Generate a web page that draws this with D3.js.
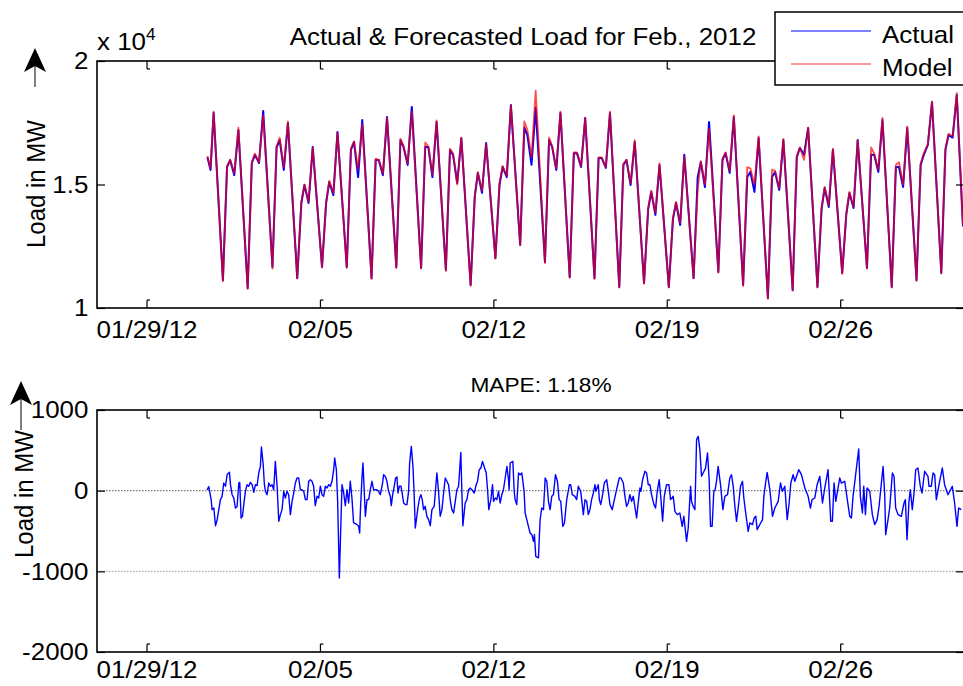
<!DOCTYPE html>
<html>
<head>
<meta charset="utf-8">
<script src="https://cdn.jsdelivr.net/npm/d3@7"></script>
<style>
  body { margin: 0; background: #fff; }
  svg text { font-family: "Liberation Sans", Arial, Helvetica, sans-serif; fill: #000; }
</style>
</head>
<body>
<svg id="chart" width="963" height="686"></svg>
<script>
// ---- data ----
// x ticks
const xTickDays = ["2012-01-29", "2012-02-05", "2012-02-12", "2012-02-19", "2012-02-26"];
const xTickLabels = ["01/29/12", "02/05", "02/12", "02/19", "02/26"];
const loadTicks = [10000, 15000, 20000];
const errTicks = [-2000, -1000, 0, 1000];

// load: partial first day (Jan 31), then one value per day (Feb 1 .. Mar 1) at fixed hours
const leadHours = [11, 14, 17];
const leadActual = [16100, 15590, 17900];
const leadModel = [16150, 15650, 17950];
const dayHours = [2, 6, 9, 13, 17];   // night low, morning rise, morning high, midday dip, evening peak
const actTrough = [11130,10800,11660,11210,11660,11660,11210,11660,11620,11540,10930,12020,12550,11860,11250,11210,10850,11010,10850,11210,11460,10930,10400,10730,10850,11420,11620,10850,11130,11420];
const actMorning = [15700,15870,16500,14250,14250,16400,15990,16800,16520,16400,14500,15000,17300,16800,16270,16070,15790,14000,13600,15300,16000,15300,15300,16110,14000,13800,16200,15710,15790,16400];
const actShoulder = [15990,16200,16800,14980,15100,16720,15990,16520,16520,16200,15470,15710,17000,16520,16270,16070,15990,14700,14250,15910,16270,15510,15500,16480,14860,14660,16200,15710,16200,17000];
const actMidday = [15380,15870,15590,14250,14570,15300,15380,15790,15300,15060,14660,15300,15800,15590,15710,15670,14980,13770,13360,14900,15470,14700,14780,16200,14090,14050,15510,14900,16600,16900];
const actPeak = [17200,17980,17490,16520,17130,17610,17730,18140,17530,16870,16680,18220,18100,17890,17690,17890,16720,15790,16200,17530,17730,16880,16800,17290,16400,16800,17610,17290,18340,18620];
const modTrough = [11080,10780,11600,11200,11640,11620,11180,11620,11600,11500,10900,12000,12550,11820,11230,11180,10830,10980,10830,11200,11430,10900,10380,10700,10830,11380,11600,10830,11100,11400];
const modMorning = [15750,15900,16550,14300,14300,16450,16050,16850,16700,16450,14550,15050,17550,16900,16300,16100,15850,14050,13650,14800,16050,15700,15600,16150,14050,13850,16500,15800,15850,16450];
const modShoulder = [16000,16250,16900,15000,15150,16750,16000,16550,16550,16250,15500,15750,17200,16550,16300,16100,16000,14750,14300,15950,16300,15650,15550,16500,14900,14700,16250,15900,16250,17050];
const modMidday = [15450,15900,15700,14300,14650,15600,15450,15850,15400,15000,14750,15350,16100,15650,15750,15700,15050,13850,13450,15000,15550,15000,14850,16000,14150,14100,15600,15000,16650,16950];
const modPeak = [17300,17800,17550,16500,17100,17450,17700,17950,17600,16900,16650,18200,18800,17950,17700,17950,16800,15850,16150,17250,17800,16950,16850,17300,16450,16800,17700,17350,18350,18700];
const tailHours = [23];
const tailActual = [13300];
const tailModel = [13350];

// forecast error in MW: [hours after Jan 31 00:00, value]
const errSeries = [
  [10.7,10],[12.3,50],[14.6,-110],[15.5,-235],[17.2,-215],[18.8,-435],[20.4,-360],[22.0,-235],[23.6,-110],[25.2,-70],
  [26.8,95],[28.5,55],[30.1,200],[32.3,227],[33.3,75],[34.9,-50],[36.5,-90],[38.1,-215],[39.7,-200],[41.4,95],
  [42.3,103],[43.6,-340],[44.9,-318],[46.2,-173],[47.8,-8],[49.4,74],[51.0,54],[52.6,103],[54.3,74],[55.9,-21],
  [57.5,74],[59.1,62],[60.7,219],[62.3,301],[63.3,541],[64.9,343],[66.2,74],[67.2,-8],[68.8,-50],[70.4,95],
  [72.0,54],[73.6,74],[75.2,12],[76.8,363],[78.5,54],[80.1,-380],[81.7,-297],[83.3,-235],[84.9,-8],[86.5,-91],
  [88.1,-8],[89.7,-50],[91.4,-297],[93.0,-132],[94.6,-29],[96.2,95],[97.8,157],[99.4,157],[101.0,12],[102.6,12],
  [104.3,-8],[105.9,-111],[107.5,-111],[109.1,116],[110.7,136],[112.3,116],[113.9,54],[115.5,-186],[117.2,-70],[118.8,-91],
  [120.4,54],[122.0,-50],[123.6,-70],[125.2,54],[126.8,33],[128.5,74],[130.1,54],[131.7,116],[133.3,260],[134.3,405],
  [135.9,260],[137.2,-153],[138.8,-1082],[140.4,-359],[141.4,74],[143.0,-29],[144.6,-186],[146.2,12],[147.8,-153],[149.4,116],
  [151.0,-91],[152.6,-400],[154.3,-409],[155.9,-421],[157.5,-442],[158.5,-525],[159.1,-277],[160.7,157],[161.7,343],[163.0,-29],
  [164.0,-318],[165.6,-111],[167.2,-111],[168.8,12],[170.4,116],[172.0,12],[173.6,12],[175.2,12],[176.8,-8],[178.5,-50],
  [180.7,95],[181.7,198],[183.3,178],[184.9,116],[186.5,-8],[188.2,-70],[189.1,-186],[190.7,-29],[192.0,54],[193.3,157],
  [194.6,169],[195.6,-29],[196.9,54],[198.5,54],[199.4,-8],[201.1,-153],[202.7,-173],[204.3,-173],[205.9,-8],[206.9,343],
  [208.5,549],[210.1,301],[211.1,12],[212.4,-463],[214.9,-215],[216.5,-91],[217.8,-50],[219.1,-111],[220.4,-235],[222.0,-194],
  [223.6,-318],[225.3,-359],[226.9,-434],[228.5,-235],[230.7,-194],[233.3,219],[234.9,-8],[236.5,-318],[238.2,-235],[239.8,-29],
  [241.4,157],[243.0,116],[244.6,74],[246.2,-111],[247.8,-235],[249.5,-277],[251.1,-132],[252.7,12],[254.3,54],[256.5,475],
  [257.5,-8],[258.5,-434],[260.7,-153],[262.4,-111],[264.0,12],[265.6,33],[267.2,12],[269.5,-29],[271.4,74],[272.7,116],
  [274.3,260],[275.9,281],[277.5,363],[279.5,281],[281.1,219],[282.4,12],[283.6,-235],[285.6,-111],[287.2,74],[288.2,-132],
  [289.8,-91],[291.4,-111],[293.0,-8],[294.6,-153],[296.2,-50],[297.8,12],[299.5,157],[301.1,301],[302.7,136],[303.3,12],
  [304.3,343],[306.9,363],[308.2,-8],[309.1,-111],[310.7,-173],[312.4,219],[314.0,198],[315.6,219],[317.8,-8],[318.8,-277],
  [320.4,-359],[322.0,-442],[323.6,-525],[325.3,-545],[326.9,-628],[327.8,-545],[329.1,-814],[331.7,-834],[333.3,-359],[334.9,-215],
  [336.6,-235],[338.2,157],[339.8,116],[341.4,-132],[343.0,-235],[344.6,-70],[346.2,-50],[348.2,198],[350.1,116],[351.7,-111],
  [353.3,-132],[355.3,-442],[356.9,-400],[359.1,-111],[361.7,74],[362.9,74],[364.5,-50],[367.1,-70],[368.7,-111],[370.3,54],
  [372.6,-8],[373.6,-111],[375.2,-297],[376.8,-111],[378.4,-132],[380.0,-297],[381.6,-235],[383.2,-111],[384.9,-29],[386.5,74],
  [387.4,-8],[389.7,74],[390.7,-111],[392.0,-173],[393.6,-70],[395.5,95],[397.8,136],[399.4,-8],[401.0,-173],[403.2,-235],
  [404.9,-132],[407.4,12],[410.0,157],[411.6,157],[413.9,95],[415.5,-70],[417.1,-194],[418.7,-153],[420.3,-50],[422.0,-132],
  [423.6,-70],[426.8,-339],[428.7,-111],[430.0,33],[431.0,-8],[432.6,136],[434.9,240],[436.5,219],[438.1,74],[439.7,74],
  [441.3,-50],[443.6,-173],[445.2,-215],[446.8,-8],[448.7,136],[450.3,-91],[452.0,-380],[453.6,-70],[455.8,74],[458.1,74],
  [459.7,-111],[462.3,-70],[463.9,-256],[466.2,-297],[468.7,-277],[471.0,-442],[472.6,-318],[475.2,-628],[476.8,-463],[477.8,-235],
  [479.1,54],[480.0,-132],[481.6,-194],[483.3,-235],[484.9,632],[486.5,673],[488.1,508],[489.7,178],[491.3,219],[493.6,281],
  [495.5,467],[497.1,136],[498.4,-442],[500.0,-442],[501.6,-8],[502.9,12],[504.2,116],[505.8,301],[508.1,74],[510.4,-235],
  [512.3,-70],[514.9,-50],[517.1,157],[518.7,198],[520.4,54],[522.0,-194],[523.6,-380],[525.8,-153],[527.5,54],[529.4,116],
  [530.7,-91],[532.3,-256],[534.9,-504],[536.5,-400],[539.1,-421],[540.7,-339],[542.3,-318],[543.6,-483],[546.2,-420],[548.8,-359],
  [550.1,-70],[552.0,116],[553.3,227],[555.9,12],[558.5,-318],[560.7,-215],[564.0,-132],[566.2,95],[568.1,-8],[570.4,54],
  [572.7,-359],[574.6,-153],[576.2,95],[578.5,198],[580.1,116],[583.9,260],[586.5,198],[589.8,33],[593.0,-70],[595.2,-215],
  [596.8,-111],[599.4,-91],[601.7,74],[604.3,178],[606.9,-153],[609.1,33],[612.3,260],[614.9,-380],[616.5,-380],[618.1,95],
  [619.8,-132],[623.6,157],[625.2,95],[628.5,116],[630.7,-91],[633.3,-318],[634.9,-339],[636.5,-70],[638.8,178],[642.0,516],
  [643.6,-70],[645.6,-277],[646.9,54],[648.5,-297],[650.1,33],[652.7,-8],[655.2,-297],[657.5,-421],[659.8,-359],[661.7,-194],
  [665.6,301],[667.2,-50],[668.1,-545],[670.4,-359],[672.0,-215],[674.6,219],[676.2,178],[677.8,-215],[680.1,-297],[683.3,-318],
  [685.9,-153],[687.2,-111],[688.8,-607],[690.7,-132],[692.0,12],[693.9,-235],[695.6,-29],[697.2,260],[699.4,281],[701.7,54],
  [703.3,-29],[705.9,240],[709.1,178],[710.1,54],[712.3,54],[714.0,219],[715.6,198],[717.2,-111],[720.4,116],[723.0,281],
  [725.2,74],[728.5,-50],[732.7,54],[734.9,-153],[737.2,-442],[738.8,-215],[741.4,-235]
];

// ---- layout ----
const FONT = 24, STRETCH = 1.08;
const left = 97, right = 964;
const top1 = 61, bot1 = 308, top2 = 410, bot2 = 652;
const T0 = Date.UTC(2012, 0, 31);
const hourToDate = h => new Date(T0 + h * 3600e3);
const parseDay = d3.utcParse("%Y-%m-%d");

const svg = d3.select("#chart");

const x = d3.scaleUtc()
  .domain([new Date(Date.UTC(2012, 0, 27)), new Date(Date.UTC(2012, 2, 2))])
  .range([left, right]);
const yLoad = d3.scaleLinear().domain([10000, 20000]).range([bot1, top1]);
const yErr = d3.scaleLinear().domain([-2000, 1000]).range([bot2, top2]);

function buildSeries(lead, cols, tail) {
  const pts = [];
  leadHours.forEach((h, i) => pts.push({ t: hourToDate(h), v: lead[i] }));
  for (let d = 0; d < cols[0].length; d++) {
    dayHours.forEach((h, j) => pts.push({ t: hourToDate(24 * (d + 1) + h), v: cols[j][d] }));
  }
  tailHours.forEach((h, i) => pts.push({ t: hourToDate(24 * 30 + h), v: tail[i] }));
  return pts;
}
const actual = buildSeries(leadActual, [actTrough, actMorning, actShoulder, actMidday, actPeak], tailActual);
const model = buildSeries(leadModel, [modTrough, modMorning, modShoulder, modMidday, modPeak], tailModel);
const errors = errSeries.map(d => ({ t: hourToDate(d[0]), v: d[1] }));

const tickDates = xTickDays.map(parseDay);

function styleText(sel, size) {
  sel.attr("font-family", '"Liberation Sans", Arial, sans-serif')
    .attr("font-size", size || FONT);
}

function drawAxes(y, yTicks, yFormat, y0, y1, labelY) {
  const g = svg.append("g");
  // bottom x axis, ticks point inwards
  const xb = g.append("g").attr("transform", `translate(0,${y1})`)
    .call(d3.axisBottom(x).tickValues(tickDates).tickSize(-8).tickSizeOuter(0)
      .tickFormat((d, i) => xTickLabels[i]));
  xb.selectAll(".tick text").attr("y", labelY).attr("dy", 0)
    .attr("transform", `scale(${STRETCH},1)`);
  xb.selectAll(".tick").append("path").attr("d", "M0,-8h3").attr("stroke", "#000");
  // top x axis, no labels
  const xt = g.append("g").attr("transform", `translate(0,${y0})`)
    .call(d3.axisTop(x).tickValues(tickDates).tickSize(-8).tickSizeOuter(0).tickFormat(""));
  xt.selectAll(".tick").append("path").attr("d", "M0,8h3").attr("stroke", "#000");
  // left y axis
  const yl = g.append("g").attr("transform", `translate(${left},0)`)
    .call(d3.axisLeft(y).tickValues(yTicks).tickSize(-8).tickSizeOuter(0).tickPadding(8)
      .tickFormat(yFormat));
  yl.selectAll(".tick text").attr("transform", `scale(${STRETCH},1)`);
  // right y axis
  g.append("g").attr("transform", `translate(${right},0)`)
    .call(d3.axisRight(y).tickValues(yTicks).tickSize(-8).tickSizeOuter(0).tickFormat(""));

  g.selectAll(".domain").remove();
  g.selectAll(".tick line, .tick path").attr("stroke", "#000").attr("stroke-width", 1.2);
  styleText(g.selectAll("g"));
  g.selectAll("text").attr("fill", "#000");

  g.append("rect").attr("x", left).attr("y", y0)
    .attr("width", right - left).attr("height", y1 - y0)
    .attr("fill", "none").attr("stroke", "#000").attr("stroke-width", 1.6);
}

// clip regions
const defs = svg.append("defs");
defs.append("clipPath").attr("id", "clipTop").append("rect")
  .attr("x", left).attr("y", top1).attr("width", right - left).attr("height", bot1 - top1);
defs.append("clipPath").attr("id", "clipBot").append("rect")
  .attr("x", left).attr("y", top2).attr("width", right - left).attr("height", bot2 - top2);

// ---- top panel: actual vs model ----
const loadLine = d3.line().x(d => x(d.t)).y(d => yLoad(d.v));
const plot1 = svg.append("g").attr("clip-path", "url(#clipTop)");
plot1.append("path").datum(actual).attr("d", loadLine)
  .attr("fill", "none").attr("stroke", "#0000ff").attr("stroke-width", 2)
  .attr("stroke-linejoin", "round");
plot1.append("path").datum(model).attr("d", loadLine)
  .attr("fill", "none").attr("stroke", "#ff0000").attr("stroke-width", 1.8)
  .attr("stroke-opacity", 0.7).attr("stroke-linejoin", "round");

drawAxes(yLoad, loadTicks, d => String(d / 10000), top1, bot1, 30);

// ---- bottom panel: error ----
const plot2 = svg.append("g").attr("clip-path", "url(#clipBot)");
const gridVals = [0, -1000];
plot2.selectAll("line.grid").data(gridVals).join("line")
  .attr("class", "grid")
  .attr("x1", left).attr("x2", right)
  .attr("y1", d => yErr(d)).attr("y2", d => yErr(d))
  .attr("stroke", (d, i) => i === 0 ? "#777" : "#aaa")
  .attr("stroke-width", 1.2).attr("stroke-dasharray", "1.5,1.5");
const errLine = d3.line().x(d => x(d.t)).y(d => yErr(d.v));
plot2.append("path").datum(errors).attr("d", errLine)
  .attr("fill", "none").attr("stroke", "#0000ff").attr("stroke-width", 1.4)
  .attr("stroke-linejoin", "round");

drawAxes(yErr, errTicks, d => String(d), top2, bot2, 26);

// ---- titles and labels ----
function addText(txt, px, py, anchor, extra, size) {
  const t = svg.append("text").attr("text-anchor", anchor)
    .attr("transform", `translate(${px},${py}) scale(${STRETCH},1)` + (extra || ""))
    .text(txt);
  styleText(t, size);
  return t;
}
addText("Actual & Forecasted Load for Feb., 2012", 523, 45, "middle");
addText("MAPE: 1.18%", 541, 392, "middle", "", 21);

const exp = svg.append("text").attr("transform", `translate(97,50) scale(${STRETCH},1)`);
styleText(exp);
exp.append("tspan").text("x 10");
exp.append("tspan").attr("dy", -10).attr("font-size", 16).text("4");

addText("Load in MW", 45, 184, "middle", " rotate(-90)");
addText("Load in MW", 33, 494, "middle", " rotate(-90)");

// arrows beside the y labels
function arrow(cx, tipY, tailY) {
  svg.append("line").attr("x1", cx).attr("x2", cx).attr("y1", tipY + 18).attr("y2", tailY)
    .attr("stroke", "#555").attr("stroke-width", 1.5);
  svg.append("path")
    .attr("d", `M${cx},${tipY} L${cx + 11},${tipY + 24} L${cx},${tipY + 18} L${cx - 11},${tipY + 24} Z`)
    .attr("fill", "#000");
}
arrow(35, 48, 87);
arrow(21, 381, 430);

// ---- legend ----
const legendNames = ["Actual", "Model"];
const legendColors = ["#0000ff", "#ff3030"];
const lg = svg.append("g");
lg.append("rect").attr("x", 775).attr("y", 12).attr("width", 200).attr("height", 73)
  .attr("fill", "#fff").attr("stroke", "#000").attr("stroke-width", 1.5);
legendNames.forEach((name, i) => {
  const ly = 31 + i * 33;
  lg.append("line").attr("x1", 791).attr("x2", 871).attr("y1", ly).attr("y2", ly)
    .attr("stroke", legendColors[i]).attr("stroke-width", 1.2);
  const t = lg.append("text").attr("transform", `translate(882,${ly + 12}) scale(${STRETCH},1)`).text(name);
  styleText(t);
});
</script>
</body>
</html>
